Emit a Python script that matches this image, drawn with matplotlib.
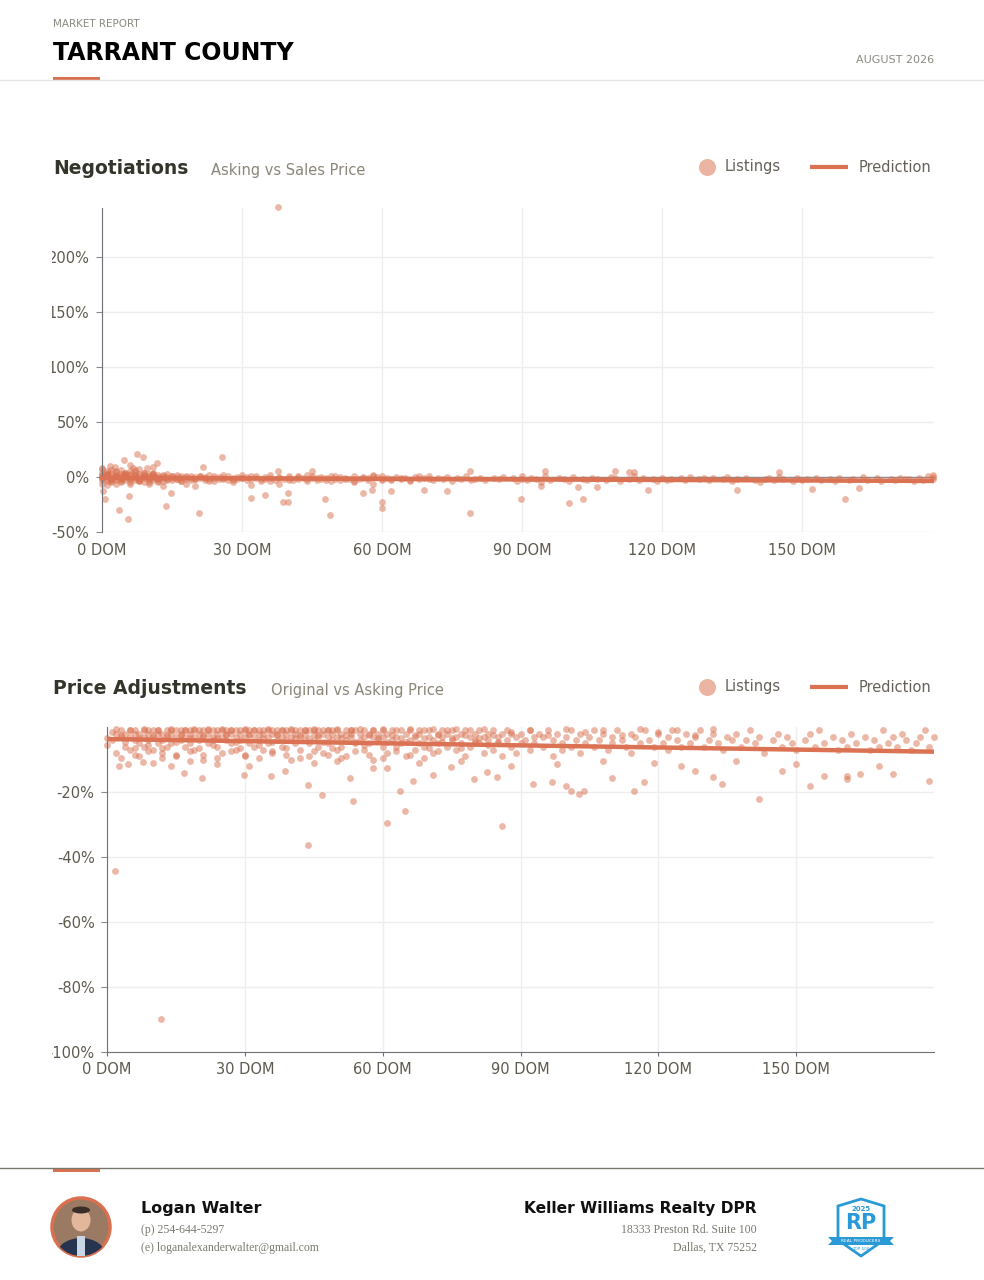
import matplotlib
matplotlib.use('Agg')
import matplotlib.pyplot as plt
from matplotlib.patches import Rectangle, Circle, Polygon, Ellipse

# ---- Negotiations (asking vs sales price, %) ----
neg_dom = [
    0, 0, 0, 0, 0, 0, 0, 1, 1, 1,
    1, 1, 1, 2, 2, 2, 2, 2, 2, 3,
    3, 3, 3, 3, 3, 4, 4, 4, 4, 4,
    4, 5, 5, 5, 5, 5, 6, 6, 6, 6,
    6, 7, 7, 7, 7, 7, 8, 8, 8, 8,
    8, 9, 9, 9, 9, 10, 10, 10, 10, 10,
    11, 11, 11, 11, 12, 12, 12, 12, 13, 13,
    13, 13, 14, 14, 14, 15, 15, 15, 16, 16,
    16, 17, 17, 17, 18, 18, 18, 19, 19, 20,
    20, 20, 21, 21, 22, 22, 23, 23, 24, 24,
    25, 25, 26, 26, 27, 27, 28, 28, 29, 29,
    30, 30, 31, 31, 32, 32, 33, 33, 34, 35,
    35, 36, 36, 37, 38, 38, 39, 40, 40, 41,
    42, 42, 43, 44, 44, 45, 45, 46, 47, 47,
    48, 49, 49, 50, 51, 51, 52, 53, 54, 54,
    55, 56, 57, 57, 58, 58, 59, 60, 60, 61,
    62, 63, 64, 65, 66, 67, 68, 69, 70, 71,
    72, 73, 74, 75, 76, 77, 78, 79, 80, 81,
    82, 84, 85, 86, 88, 89, 90, 90, 91, 92,
    93, 94, 95, 96, 98, 99, 100, 101, 103, 104,
    105, 106, 108, 109, 110, 111, 113, 114, 115, 116,
    118, 119, 120, 121, 122, 124, 125, 126, 128, 129,
    130, 131, 133, 134, 135, 136, 138, 140, 141, 142,
    143, 144, 145, 146, 148, 149, 150, 151, 153, 154,
    156, 157, 158, 160, 161, 163, 164, 166, 167, 169,
    170, 171, 173, 174, 175, 176, 177, 178, 178, 172,
    0, 1, 2, 3, 4, 5, 6, 7, 8, 9, 10, 11,
    12, 13, 14, 15, 16, 17, 18, 19, 20, 21, 22, 23,
    24, 26, 28, 30, 32, 34, 36, 38, 40, 42, 44, 46,
    48, 50, 52, 54, 56, 58, 60, 62, 64, 66, 68, 70,
    1, 2, 3, 4, 5, 6, 7, 8, 9, 10, 11, 12,
]
neg_pct = [
    2, -1, 0.5, -3, 4, -6, 7, 3, -1.5, 5,
    -4, 1.5, -7, 1, -2, 4, -5, 6, -1, -1,
    2, -3, 5, 1, -6, 0, 3, -2, 6, -4,
    1, 1, -1, 4, -3, 2, -2, 2, 5, -6,
    3, 0, -3, 2, 6, -1, 1, -2, 3, -4,
    7, -1, 2, 4, -5, 0, -2, 3, 1, -6,
    -1, 1, -3, 4, 0, 2, -2, -5, -1, 1,
    -4, -8, 0, -2, 3, -1, 1, -3, 0, -2,
    2, -1, 1, -4, -2, 0, -6, -1, 1, 0,
    -2, -8, -1, 1, -3, 0, -2, 2, -1, -4,
    0, -2, -1, 2, -3, 1, -5, -1, 0, -2,
    -1, 2, -3, 0, -2, -7, 1, -1, -4, 0,
    -2, -1, 2, -3, 0, -6, -2, -1, 1, -3,
    0, -2, -1, 2, -4, -1, 1, -3, 0, -2,
    -1, -4, 1, -2, 0, -3, -1, -2, 1, -5,
    -2, 0, -1, -3, 2, -6, 0, -2, 1, -1,
    -3, 0, -2, -1, -4, 0, -2, -1, 1, -3,
    -1, -2, 0, -4, -1, -2, 1, -3, -2, -1,
    -3, -1, -2, 0, -1, -4, -2, 1, -3, -1,
    -2, -5, 1, -3, -1, -2, -4, 0, -2, -3,
    -1, -2, -3, 0, -1, -4, -2, 1, -3, -1,
    -2, -4, -1, -3, -2, -1, -3, 0, -2, -1,
    -3, -1, -2, 0, -4, -2, -1, -3, -5, -2,
    -1, -3, 0, -2, -4, -1, -3, -2, -1, -3,
    -2, -4, -1, -3, -2, 0, -3, -1, -4, -2,
    -3, -1, -2, -4, -1, -3, 1, 0, -2, -2,
    -0.5, 1.5, -2.5, 0.5, -1.5, 2.5, -0.5, 1.5, -2.5, 0.5, -1.5, 2.5,
    -0.5, 1.5, -2.5, 0.5, -1.5, -3.5, 0.5, -2.5, -1.5, 0.5, -0.5, -3.5,
    0.5, -1.5, -2.5, -0.5, 0.5, -1.5, -3.5, -0.5, -2.5, 0.5, -1.5, -0.5,
    -2.5, 0.5, -1.5, -3.5, -0.5, 0.5, -2.5, -1.5, -0.5, -2.5, 0.5, -1.5,
    3.5, -3.5, 4.5, -4.5, 3.5, -4.5, 4.5, -3.5, 3.5, -4.5, 2.5, -3.5,
]
neg_out_dom = [37.7, 7.6, 8.7, 4.7, 11.7, 25.7, 21.7, 1.7, 2.8, 6, 6.6, 9.6, 11, 0,
               0.2, 0.6, 3.7, 5.6, 5.7, 13.7, 14.7, 20.8, 31.9, 34.9, 38.7, 39.9,
               39.9, 47.8, 48.9, 55.9, 57.8, 59.9, 59.9, 61.9, 69, 74, 78.9, 44.9,
               37.8, 78.9, 89.9, 100, 103, 117, 136, 152.2, 159.3, 162.2, 110, 114,
               113, 145, 95, 106, 94, 102, 178]
neg_out_pct = [245, 20.6, 18.5, 15.5, 13, 18.5, 9.4, 10, 9, 11, 8, 8.5, 9, 8,
               -12.4, -20, -30, -38.5, -17, -26.4, -14.6, -32.4, -18.8, -16, -22.4, -22.4,
               -14.3, -20, -34.5, -14.3, -12, -23, -28, -12.4, -11.5, -12.4, -33, 5.7,
               5, 5, -19.7, -23.3, -20, -11.8, -11.8, -11.3, -20, -10, 5.5, 4.5,
               4.5, 4.5, 5, -9, -8.5, -9.5, 2]
neg_pred_dom = [0, 178.3]
neg_pred_pct = [-0.8, -3.6]

# ---- Price adjustments (original vs asking price, %) ----
adj_dom = [
    0, 0, 1, 1, 2, 2, 3, 3, 4, 4,
    5, 5, 5, 6, 6, 6, 7, 7, 7, 8,
    8, 8, 9, 9, 9, 10, 10, 10, 11, 11,
    11, 12, 12, 12, 13, 13, 13, 14, 14, 14,
    15, 15, 15, 16, 16, 16, 17, 17, 17, 18,
    18, 18, 19, 19, 19, 20, 20, 20, 21, 21,
    21, 22, 22, 22, 23, 23, 23, 24, 24, 24,
    25, 25, 25, 26, 26, 26, 27, 27, 27, 28,
    28, 28, 29, 29, 29, 30, 30, 30, 31, 31,
    31, 32, 32, 32, 33, 33, 33, 34, 34, 34,
    35, 35, 35, 36, 36, 36, 37, 37, 37, 38,
    38, 38, 39, 39, 39, 40, 40, 40, 41, 41,
    41, 42, 42, 42, 43, 43, 43, 44, 44, 44,
    45, 45, 45, 46, 46, 46, 47, 47, 47, 48,
    48, 48, 49, 49, 49, 50, 50, 50, 51, 51,
    52, 52, 52, 53, 53, 53, 54, 54, 55, 55,
    56, 56, 56, 57, 57, 58, 58, 58, 59, 59,
    60, 60, 60, 61, 61, 62, 62, 63, 63, 64,
    64, 65, 65, 66, 66, 67, 67, 68, 68, 69,
    69, 70, 70, 71, 71, 72, 72, 73, 73, 74,
    74, 75, 75, 76, 76, 77, 77, 78, 78, 79,
    79, 80, 80, 81, 81, 82, 82, 83, 83, 84,
    84, 85, 85, 86, 86, 87, 87, 88, 88, 89,
    89, 90, 90, 91, 92, 92, 93, 93, 94, 95,
    95, 96, 97, 97, 98, 99, 99, 100, 101, 101,
    102, 103, 103, 104, 105, 106, 106, 107, 108, 109,
    110, 110, 111, 112, 113, 114, 114, 115, 116, 117,
    118, 119, 120, 121, 122, 122, 123, 124, 125, 126,
    127, 128, 129, 130, 131, 132, 133, 134, 135, 136,
    137, 138, 139, 140, 141, 142, 143, 145, 146, 147,
    148, 149, 150, 152, 153, 154, 155, 156, 158, 159,
    160, 161, 162, 163, 165, 166, 167, 168, 169, 170,
    171, 172, 173, 174, 175, 176, 177, 178, 179, 180,
    2, 3, 4, 5, 6, 7, 8, 9, 10, 11, 12, 13,
    14, 15, 16, 17, 18, 19, 20, 21, 22, 23, 24, 25,
    26, 27, 28, 29, 30, 31, 32, 33, 34, 35, 36, 37,
    38, 39, 40, 41, 42, 43, 44, 45, 46, 47, 48, 49,
    50, 51, 52, 53, 54, 55, 56, 57, 58, 59, 60, 61,
    62, 63, 64, 65, 66, 67, 68, 69, 70, 71, 72, 73,
    74, 75, 76, 77, 78, 79, 80, 81, 82, 83, 84, 85,
    3, 6, 9, 12, 15, 18, 21, 24, 27, 30, 33, 36,
    39, 42, 45, 48, 51, 54, 57, 60, 63, 66, 69, 72,
    88, 92, 96, 100, 104, 108, 112, 116, 120, 124, 128, 132,
]
adj_pct = [
    -3.5, -5.5, -1.5, -4, -2, -8, -1, -3, -6, -2,
    -1, -3, -7, -2, -4, -1, -2, -5, -9, -1,
    -3, -6, -2, -1, -4, -1, -3, -7, -2, -5,
    -1, -2, -4, -8, -1, -3, -6, -1, -2, -5,
    -3, -1, -9, -2, -4, -1, -1, -3, -6, -2,
    -5, -1, -1, -3, -7, -2, -4, -1, -1, -3,
    -10, -2, -1, -5, -1, -3, -4, -2, -1, -6,
    -1, -3, -8, -2, -1, -4, -1, -2, -5, -3,
    -1, -7, -2, -1, -4, -1, -3, -9, -2, -1,
    -5, -1, -3, -6, -2, -1, -4, -1, -2, -7,
    -3, -1, -5, -2, -1, -8, -1, -4, -2, -3,
    -1, -6, -2, -1, -4, -1, -3, -10, -2, -5,
    -1, -1, -3, -7, -2, -4, -1, -1, -5, -9,
    -2, -1, -4, -3, -1, -6, -1, -2, -8, -3,
    -1, -5, -2, -4, -1, -1, -3, -7, -2, -6,
    -1, -4, -9, -2, -3, -1, -1, -5, -2, -4,
    -1, -3, -7, -2, -5, -1, -3, -10, -2, -4,
    -1, -6, -3, -2, -8, -1, -4, -3, -6, -1,
    -5, -2, -9, -1, -4, -3, -7, -2, -5, -1,
    -6, -3, -1, -4, -8, -2, -5, -1, -3, -6,
    -2, -1, -4, -3, -7, -2, -5, -1, -9, -3,
    -6, -2, -4, -1, -5, -3, -8, -2, -4, -1,
    -7, -3, -5, -2, -9, -1, -4, -6, -2, -3,
    -8, -2, -5, -4, -1, -7, -3, -5, -2, -6,
    -3, -1, -4, -9, -2, -5, -7, -3, -1, -6,
    -4, -2, -8, -5, -3, -1, -6, -4, -2, -7,
    -3, -5, -1, -4, -6, -2, -8, -3, -5, -1,
    -4, -6, -2, -5, -3, -7, -1, -4, -6, -2,
    -5, -3, -1, -6, -4, -2, -5, -7, -3, -4,
    -2, -6, -4, -1, -5, -3, -8, -4, -2, -6,
    -3, -5, -7, -4, -2, -6, -1, -5, -3, -7,
    -4, -6, -2, -5, -3, -7, -4, -6, -1, -5,
    -3, -6, -2, -4, -7, -5, -3, -1, -6, -3,
    -0.7, -2.5, -4.5, -0.8, -6.5, -3.5, -0.7, -5.5, -2.5, -0.8, -6.5, -2.5,
    -0.7, -4.5, -2.5, -0.8, -3.5, -0.7, -6.5, -2.5, -0.7, -5.5, -3.5, -0.7,
    -2.5, -0.8, -4.5, -6.5, -0.7, -2.5, -0.8, -5.5, -3.5, -0.7, -4.5, -2.5,
    -0.8, -6.5, -0.7, -3.5, -2.5, -0.8, -3.5, -0.7, -2.5, -4.5, -0.8, -6.5,
    -0.7, -3.5, -2.5, -0.8, -4.5, -0.7, -5.5, -2.5, -0.8, -3.5, -0.7, -4.5,
    -2.5, -0.8, -3.5, -4.5, -0.7, -2.5, -0.8, -3.5, -6.5, -0.7, -2.5, -4.5,
    -0.8, -3.5, -0.7, -6.5, -2.5, -0.8, -4.5, -3.5, -0.7, -5.5, -2.5, -4.5,
    -9.5, -8.5, -7.5, -9.5, -8.5, -7.5, -8.5, -9.5, -7.5, -8.5, -9.5, -7.5,
    -8.5, -9.5, -7.5, -8.5, -9.5, -7.5, -8.5, -9.5, -7.5, -8.5, -9.5, -7.5,
    -1.5, -0.8, -2.5, -0.7, -1.5, -0.8, -2.5, -0.7, -1.5, -0.8, -2.5, -0.7,
]
adj_out_dom = [1.7, 11.8, 43.8, 43.8, 46.7, 53.6, 60.9, 63.8, 64.9, 66.7, 2.7, 4.6,
               7.8, 16.8, 20.7, 29.8, 35.7, 38.7, 52.8, 60.9, 70.9, 74.9, 79.9, 82.7,
               85.9, 84.8, 92.8, 96.9, 99.9, 101, 102.8, 103.9, 109.9, 114.8, 116.9,
               127.9, 131.9, 133.9, 142, 147, 153, 156, 161, 161, 163.9, 171, 179,
               10, 14, 18, 24, 31, 45, 50, 58, 68, 77, 88, 98, 108, 119, 125, 137,
               150, 168]
adj_out_pct = [-44.4, -89.8, -36.4, -17.8, -20.8, -22.9, -29.5, -19.8, -25.8, -16.5,
               -12.1, -11.4, -10.8, -14.2, -15.8, -14.7, -15.2, -13.4, -15.7, -12.6,
               -14.9, -12.4, -16, -13.7, -30.4, -15.4, -17.4, -16.9, -18, -19.8,
               -20.5, -19.8, -15.7, -19.7, -17, -13.4, -15.4, -17.4, -22.2, -13.4,
               -18, -15.2, -15, -16, -14.4, -14.4, -16.6, -11, -12, -10.5, -11.5,
               -12, -11, -10.5, -12.5, -11, -10.5, -12, -11.5, -10.5, -11, -12,
               -10.5, -11.5, -12]
adj_pred_dom = [0, 180]
adj_pred_pct = [-3.7, -7.6]

neg_yticks = [-50, 0, 50, 100, 150, 200]
adj_yticks = [-100, -80, -60, -40, -20]
dom_ticks = [0, 30, 60, 90, 120, 150]

# colours
ORANGE = '#d9704f'
LINE = '#db7253'
AXIS = '#6f6f78'
GRID = '#eeeeee'
TICK = '#5e5a4e'
DARK = '#34342a'
MUTED = '#8b8678'

W, H = 984, 1280
fig = plt.figure(figsize=(W / 100, H / 100), dpi=100)
fig.patch.set_facecolor('white')


def px_axes(left, top, right, bottom):
    return fig.add_axes([left / W, 1 - bottom / H, (right - left) / W, (bottom - top) / H])


def style_axes(ax, xlim, ylim, yticks, bottom_spine):
    ax.set_xlim(xlim)
    ax.set_ylim(ylim)
    ax.set_xticks(dom_ticks)
    ax.set_xticklabels([f'{t} DOM' for t in dom_ticks])
    ax.set_yticks(yticks)
    ax.set_yticklabels([f'{t}%' for t in yticks])
    ax.grid(True, color=GRID, lw=1)
    ax.set_axisbelow(True)
    for s in ['top', 'right']:
        ax.spines[s].set_visible(False)
    ax.spines['left'].set_color(AXIS)
    ax.spines['bottom'].set_color(AXIS)
    ax.spines['bottom'].set_visible(bottom_spine)
    ax.tick_params(axis='y', length=4, color='#8a8a8a', pad=5, labelsize=10.5, labelcolor=TICK)
    ax.tick_params(axis='x', length=3 if bottom_spine else 0, color=AXIS,
                   pad=4 if bottom_spine else 8, labelsize=10.5, labelcolor=TICK)


# chart 1
ax1 = px_axes(102, 208, 934, 532)
style_axes(ax1, (0, 178.3), (-50, 244.5), neg_yticks, False)
ax1.axhline(0, color='#8c8c8c', lw=1, zorder=1.5)
ax1.scatter(neg_dom + neg_out_dom, neg_pct + neg_out_pct, s=24, color=ORANGE,
            alpha=0.5, lw=0, clip_on=False, zorder=2)
ax1.plot(neg_pred_dom, neg_pred_pct, color=LINE, lw=3.2, solid_capstyle='butt', zorder=3)

# chart 2
ax2 = px_axes(107, 727, 934, 1052)
style_axes(ax2, (0, 180), (-100, 0), adj_yticks, True)
ax2.scatter(adj_dom + adj_out_dom, adj_pct + adj_out_pct, s=24, color=ORANGE,
            alpha=0.5, lw=0, clip_on=False, zorder=2)
ax2.plot(adj_pred_dom, adj_pred_pct, color=LINE, lw=3.2, solid_capstyle='butt', zorder=3)

# page overlay in pixel coordinates
page = fig.add_axes([0, 0, 1, 1], zorder=10)
page.set_xlim(0, W)
page.set_ylim(H, 0)
page.axis('off')
page.patch.set_alpha(0)

# left margin hides the overflowing tick labels
page.add_patch(Rectangle((0, 195), 51.5, 890, color='white', lw=0))

# header
page.text(53, 24, 'MARKET REPORT', fontsize=7.5, color='#8a8a80', va='center')
page.text(53, 53, 'TARRANT COUNTY', fontsize=17, fontweight='bold', color='black', va='center')
page.text(934, 60, 'AUGUST 2026', fontsize=8, color='#8a8a80', va='center', ha='right')
page.plot([0, W], [80, 80], color='#e6e6e6', lw=1)
page.add_patch(Rectangle((53, 76.5), 47, 3, color=ORANGE, lw=0))


def chart_header(y, title, subtitle, sub_x):
    page.text(53, y, title, fontsize=13.5, fontweight='bold', color=DARK, va='center')
    page.text(sub_x, y + 2, subtitle, fontsize=10.5, color=MUTED, va='center')
    page.scatter([707], [y - 1], s=150, color='#ebb4a2', lw=0)
    page.text(725, y - 1, 'Listings', fontsize=10.5, color='#66625a', va='center')
    page.plot([810, 848], [y - 1, y - 1], color=LINE, lw=3, solid_capstyle='butt')
    page.text(859, y - 1, 'Prediction', fontsize=10.5, color='#66625a', va='center')


chart_header(168, 'Negotiations', 'Asking vs Sales Price', 211)
chart_header(688, 'Price Adjustments', 'Original vs Asking Price', 271)

# footer
page.plot([0, W], [1168, 1168], color='#77776b', lw=1)
page.add_patch(Rectangle((53, 1168.5), 47, 3, color=ORANGE, lw=0))

avatar = Circle((81, 1227), 29, facecolor='#9a7a62', edgecolor=ORANGE, lw=2.5, zorder=2)
page.add_patch(avatar)
body = Ellipse((81, 1256), 50, 36, facecolor='#27344f', lw=0, zorder=3)
body.set_clip_path(avatar)
page.add_patch(body)
page.add_patch(Rectangle((77, 1236), 8, 20, facecolor='#c9d6e6', lw=0, zorder=3.5))
page.add_patch(Ellipse((81, 1220), 19, 23, facecolor='#e2b79c', lw=0, zorder=4))
page.add_patch(Ellipse((81, 1210), 18, 7, facecolor='#3a2e28', lw=0, zorder=4.5))

page.text(141, 1208, 'Logan Walter', fontsize=11.5, fontweight='bold', color='#111111', va='center')
page.text(141, 1230, '(p) 254-644-5297', fontsize=8.5, family='Liberation Serif', color='#7a7a70', va='center')
page.text(141, 1248, '(e) loganalexanderwalter@gmail.com', fontsize=8.5, family='Liberation Serif',
          color='#7a7a70', va='center')
page.text(757, 1208, 'Keller Williams Realty DPR', fontsize=11.2, fontweight='bold', color='#111111',
          va='center', ha='right')
page.text(757, 1230, '18333 Preston Rd. Suite 100', fontsize=8.5, family='Liberation Serif',
          color='#7a7a70', va='center', ha='right')
page.text(757, 1248, 'Dallas, TX 75252', fontsize=8.5, family='Liberation Serif',
          color='#7a7a70', va='center', ha='right')

# badge
BLUE = '#2a9ad6'
page.add_patch(Polygon([(861, 1199), (838, 1206), (838, 1240), (861, 1256), (884, 1240), (884, 1206)],
                       closed=True, facecolor='white', edgecolor=BLUE, lw=2))
page.text(861, 1209, '2025', fontsize=5, fontweight='bold', color=BLUE, ha='center', va='center')
page.text(861, 1223, 'RP', fontsize=15, fontweight='bold', color=BLUE, ha='center', va='center')
page.add_patch(Polygon([(828, 1237), (894, 1237), (890, 1241), (894, 1245), (828, 1245), (832, 1241)],
                       closed=True, facecolor=BLUE, lw=0))
page.text(861, 1241, 'REAL PRODUCERS', fontsize=3.2, color='white', ha='center', va='center')
page.text(861, 1249, 'TOP 500', fontsize=3, color=BLUE, ha='center', va='center')

fig.savefig('out.png', dpi=100, facecolor='white')
